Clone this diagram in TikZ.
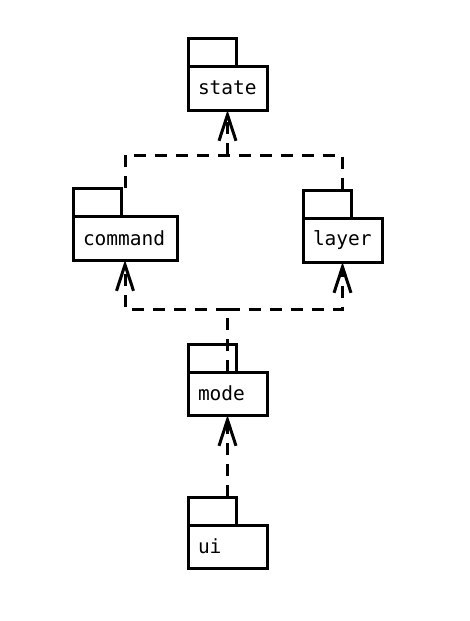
\documentclass[tikz,border=0pt]{standalone}
\usepackage{fontspec}
\newfontfamily\pkgfont{DejaVu Sans Mono}
\usetikzlibrary{arrows.meta}
\begin{document}
\begin{tikzpicture}[x=1pt,y=-1pt,
  pkgbody/.style={draw, line width=3pt, outer sep=0pt, minimum height=44pt,
    inner xsep=10pt, inner ysep=0pt, text width=59pt, align=left,
    font=\pkgfont\fontsize{19.5}{23}\selectfont, anchor=north west},
  pkgtab/.style={draw, line width=3pt, outer sep=0pt, minimum width=48pt,
    minimum height=28pt, inner sep=0pt, anchor=south west},
  dep/.style={line width=3pt, dash pattern=on 12pt off 9pt},
  arr/.style={-{Straight Barb[length=26pt,width=17pt,line width=3pt]}}]
\useasboundingbox (0,0) rectangle (469,621);
% packages
\node[pkgbody] (state) at (188,66) {state};
\node[pkgtab] (statetab) at (state.north west) {};
\node[pkgbody, text width=84pt] (command) at (73,216) {command};
\node[pkgtab] (cmdtab) at (command.north west) {};
\node[pkgbody] (layer) at (303,218) {layer};
\node[pkgtab] (laytab) at (layer.north west) {};
\node[pkgbody, minimum height=43pt] (mode) at (188,372) {mode};
\node[pkgtab] (modetab) at (mode.north west) {};
\node[pkgbody, minimum height=43pt] (ui) at (188,525) {ui};
\node[pkgtab] (uitab) at (ui.north west) {};
% junctions
\coordinate (j1) at (227.5,155);
\coordinate (j2) at (227.5,309);
% connectors
\draw[dep] (command.north |- cmdtab.north) |- (j1) -| (layer.north |- laytab.north);
\draw[dep,arr] (j1) -- (state.south);
\draw[dep] (mode.north) -- (j2);
\draw[dep,arr] (j2) -| (command.south);
\draw[dep,arr] (j2) -| (layer.south);
\draw[dep,arr] (ui.north |- uitab.north) -- (mode.south);
\end{tikzpicture}
\end{document}
